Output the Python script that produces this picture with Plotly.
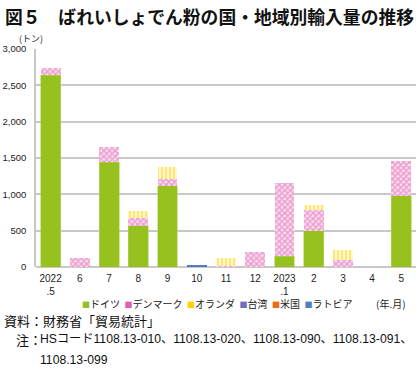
import plotly.graph_objects as go

categories = ["2022<br>.5", "6", "7", "8", "9", "10", "11", "12", "2023<br>.1", "2", "3", "4", "5"]
germany     = [2640, 0, 1445, 570, 1120, 0, 0, 0, 150, 500, 0, 0, 980]
denmark     = [100, 125, 210, 100, 90, 0, 15, 210, 1005, 285, 100, 0, 480]
netherlands = [0, 0, 0, 105, 170, 0, 110, 0, 0, 65, 130, 0, 0]
taiwan      = [0] * 13
usa         = [0] * 13
latvia      = [0, 0, 0, 0, 0, 20, 0, 0, 0, 0, 0, 0, 0]
y_ticks = [0, 500, 1000, 1500, 2000, 2500, 3000]
y_tick_labels = ["0", "500", "1,000", "1,500", "2,000", "2,500", "3,000"]
series_names = ["ドイツ", "デンマーク", "オランダ", "台湾", "米国", "ラトビア"]

FONT = "Liberation Sans, Noto Sans CJK JP"
JP = "Noto Sans CJK JP"
fig = go.Figure()

styles = [
    dict(color="#97c11f", line=dict(color="#b5d65a", width=0.6)),
    dict(color="#ffffff", pattern=dict(shape="x", fgcolor="#de55aa", bgcolor="#fbe0f0", size=4, solidity=0.6), line=dict(width=0)),
    dict(color="#ffffff", pattern=dict(shape="|", fgcolor="#ffd200", bgcolor="#fff8d0", size=4, solidity=0.45), line=dict(width=0)),
    dict(color="#ffffff", pattern=dict(shape="+", fgcolor="#6f6fc0", size=4, solidity=0.3), line=dict(width=0)),
    dict(color="#f06a10", line=dict(width=0)),
    dict(color="#4f7fbf", line=dict(width=0)),
]
for name, vals, st in zip(series_names, [germany, denmark, netherlands, taiwan, usa, latvia], styles):
    fig.add_trace(go.Bar(x=categories, y=vals, name=name, marker=st, showlegend=False))

legend_colors = ["#97c11f", "#e05fb0", "#ffd200", "#6f6fc0", "#f06a10", "#4f7fbf"]
legend_text = "  ".join(f"<span style='color:{c};font-size:8px'>■</span>{n}" for c, n in zip(legend_colors, series_names))

PW = 380  # plot width in px (420 - 36 - 4)
fig.update_layout(
    width=420, height=369, autosize=False,
    margin=dict(l=36, r=4, t=49, b=102, autoexpand=False),
    barmode="stack", bargap=0.32,
    plot_bgcolor="white", paper_bgcolor="white",
    font=dict(family=FONT, size=10, color="#222"),
    xaxis=dict(type="category", categoryorder="array", categoryarray=categories, automargin=False,
               showgrid=False, showline=False, ticks="", tickfont=dict(size=10, color="#222"),
               ticklabelstandoff=4),
    yaxis=dict(range=[0, 3000], tickvals=y_ticks, ticktext=y_tick_labels, automargin=False,
               showgrid=True, gridcolor="#c8c8c8", gridwidth=1.5,
               zeroline=True, zerolinecolor="#c8c8c8", zerolinewidth=1.5,
               showline=True, linecolor="#c8c8c8", linewidth=1.5,
               ticks="", ticklabelstandoff=6, tickfont=dict(size=9.5, color="#222")),
    annotations=[
        dict(text="<b>図５　ばれいしょでん粉の国・地域別輸入量の推移</b>", xref="paper", yref="paper",
             x=-33/PW, xanchor="left", y=1, yshift=49 - 1, yanchor="top", showarrow=False,
             font=dict(size=17.8, color="#111", family=JP)),
        dict(text="(トン)", xref="paper", yref="paper", x=-19/PW, xanchor="left", y=1, yshift=11,
             yanchor="middle", showarrow=False, font=dict(size=9, color="#222", family=JP)),
        dict(text=legend_text, xref="paper", yref="paper", x=(80 - 36) / PW, xanchor="left",
             y=0, yshift=-36, yanchor="middle", showarrow=False, font=dict(size=10, color="#222", family=JP)),
        dict(text="(年.月)", xref="paper", yref="paper", x=1, xanchor="right", xshift=-8,
             y=0, yshift=-36, yanchor="middle", showarrow=False, font=dict(size=10, color="#222", family=JP)),
        dict(text="資料：財務省「貿易統計」", xref="paper", yref="paper", x=-34/PW, xanchor="left",
             y=0, yshift=-53, yanchor="middle", showarrow=False, font=dict(size=13, color="#111", family=JP)),
        dict(text="注：", xref="paper", yref="paper", x=-22/PW, xanchor="left",
             y=0, yshift=-72, yanchor="middle", showarrow=False, font=dict(size=13, color="#111", family=JP)),
        dict(text="HSコード1108.13-010、1108.13-020、1108.13-090、1108.13-091、", xref="paper", yref="paper",
             x=2/PW, xanchor="left", y=0, yshift=-72, yanchor="middle", showarrow=False,
             font=dict(size=12.2, color="#111")),
        dict(text="1108.13-099", xref="paper", yref="paper", x=2/PW, xanchor="left",
             y=0, yshift=-93, yanchor="middle", showarrow=False, font=dict(size=12.2, color="#111")),
    ],
)

fig.write_html("out.html", config={"displayModeBar": False},
               post_script="document.body.style.margin='0';")
